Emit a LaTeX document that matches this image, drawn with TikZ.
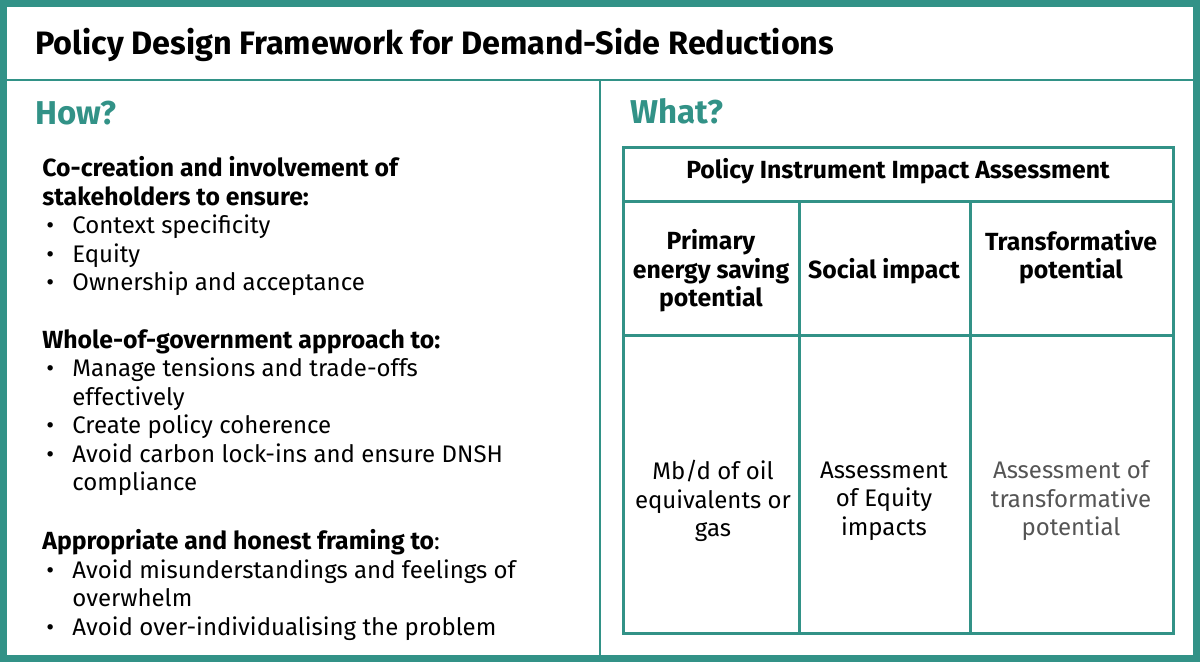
\documentclass[tikz,border=0pt]{standalone}
\usepackage{fontspec}
\setmainfont{Fira Sans}
\usetikzlibrary{positioning}
\definecolor{frameteal}{RGB}{50,146,135}
\definecolor{softgrey}{RGB}{85,85,85}
\newcommand{\bl}[1]{\hspace*{2pt}\makebox[13pt][l]{\textbullet}#1}
\newcommand{\cont}[1]{\hspace*{15pt}#1}
\newcommand{\hb}[1]{{\fontsize{12.4}{14.25}\selectfont\bfseries #1}}
\tikzset{
  bodytext/.style={font=\fontsize{12}{14.25}\selectfont, inner sep=0pt},
  howblock/.style={bodytext, anchor=north west, align=left},
  cell/.style={bodytext, align=center},
  headcell/.style={cell, font=\fontsize{12.4}{14.25}\selectfont\bfseries},
  heading/.style={font=\fontsize{16.5}{19}\selectfont\bfseries, text=frameteal, inner sep=0pt, anchor=base west},
}
\begin{document}
\begin{tikzpicture}[x=0.5pt, y=-0.5pt]
  \useasboundingbox (0,0) rectangle (1200,662);
  \fill[white] (0,0) rectangle (1200,662);
  % frame and dividers
  \draw[frameteal, line width=3.5pt] (3.5,3.5) rectangle (1196.5,658.5);
  \draw[frameteal, line width=0.9pt] (7,80) -- (1193,80);
  \draw[frameteal, line width=0.9pt] (600,80) -- (600,655);

  \node[font=\fontsize{16.2}{19}\selectfont\bfseries, inner sep=0pt, anchor=base west] (title) at (35,55) {Policy Design Framework for Demand-Side Reductions};
  \node[heading] (how) at (35,125) {How?};
  \node[heading] (what) at (630,124) {What?};

  % how? column
  \node[howblock] (cocreate) at (42,156) {\hb{Co-creation and involvement of}\\
    \hb{stakeholders to ensure:}\\
    \bl{Context specificity}\\
    \bl{Equity}\\
    \bl{Ownership and acceptance}};
  \node[howblock] (wholegov) at (42,329) {\hb{Whole-of-government approach to:}\\
    \bl{Manage tensions and trade-offs}\\
    \cont{effectively}\\
    \bl{Create policy coherence}\\
    \bl{Avoid carbon lock-ins and ensure DNSH}\\
    \cont{compliance}};
  \node[howblock] (framing) at (42,529) {\hb{Appropriate and honest framing to}:\\
    \bl{Avoid misunderstandings and feelings of}\\
    \cont{overwhelm}\\
    \bl{Avoid over-individualising the problem}};

  % what? table
  \begin{scope}[frameteal, line width=1.5pt]
    \draw (623,148) rectangle (1173,633);
    \draw (623,202) -- (1173,202);
    \draw (623,336) -- (1173,336);
    \draw (799,202) -- (799,633);
    \draw (970,202) -- (970,633);
  \end{scope}
  \node[headcell] (impact) at (898,171) {Policy Instrument Impact Assessment};
  \node[headcell] (primary) at (711,271) {Primary\\energy saving\\potential};
  \node[headcell] (social) at (884,271) {Social impact};
  \node[headcell] (transf) at (1071,257) {Transformative\\potential};
  \node[cell] (oil) at (713,501) {Mb/d of oil\\equivalents or\\gas};
  \node[cell] (equity) at (884,501) {Assessment\\of Equity\\impacts};
  \node[cell, text=softgrey] (transfval) at (1071,501) {Assessment of\\transformative\\potential};
\end{tikzpicture}
\end{document}
